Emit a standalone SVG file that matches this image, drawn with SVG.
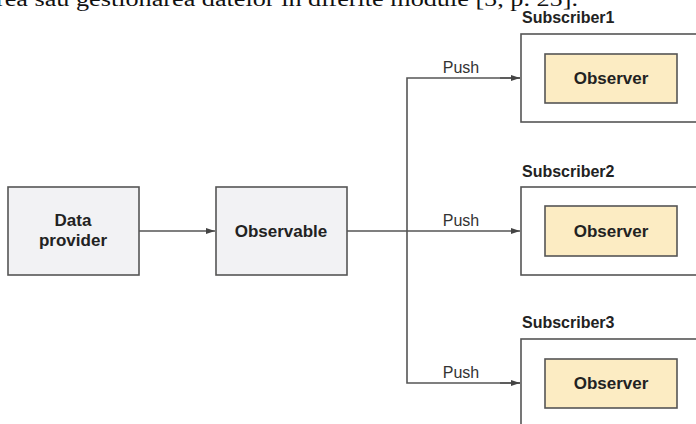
<svg xmlns="http://www.w3.org/2000/svg" width="696" height="424" viewBox="0 0 696 424">
<style>
.box{fill:#f2f2f4;stroke:#555;stroke-width:1.6}
.sub{fill:#fff;stroke:#555;stroke-width:1.6}
.obs{fill:#fcecc3;stroke:#555;stroke-width:1.6}
.b{font-family:"Liberation Sans",Arial,sans-serif;font-weight:bold;font-size:17px;fill:#222;text-anchor:middle}
.lbl{font-family:"Liberation Sans",Arial,sans-serif;font-weight:bold;font-size:16px;fill:#222}
.push{font-family:"Liberation Sans",Arial,sans-serif;font-size:16px;fill:#333;text-anchor:middle}
.doc{font-family:"Liberation Serif","Times New Roman",serif;font-size:20px;fill:#111}
.c{fill:none;stroke:#555;stroke-width:1.6}
</style>
<defs>
<marker id="ah" markerWidth="10" markerHeight="8" refX="9" refY="4" orient="auto" markerUnits="userSpaceOnUse">
<path d="M0,1 L9,4 L0,7 Z" fill="#444"/>
</marker>
</defs>
<rect width="696" height="424" fill="#fff"/>
<text class="doc" x="-4" y="6" textLength="582" lengthAdjust="spacingAndGlyphs">rea sau gestionarea datelor în diferite module [5, p. 25].</text>
<g id="data-provider">
<rect class="box" x="8" y="187" width="131" height="88"/>
<text class="b" x="73" y="226">Data</text>
<text class="b" x="73" y="246">provider</text>
</g>
<g id="observable">
<rect class="box" x="216" y="187" width="131" height="88"/>
<text class="b" x="281" y="237">Observable</text>
</g>
<g id="subscriber1">
<text class="lbl" x="522" y="23">Subscriber1</text>
<rect class="sub" x="521" y="34" width="185" height="88"/>
<g id="observer1">
<rect class="obs" x="545" y="54" width="132" height="49"/>
<text class="b" x="611" y="84">Observer</text>
</g>
</g>
<g id="subscriber2">
<text class="lbl" x="522" y="177">Subscriber2</text>
<rect class="sub" x="521" y="187" width="185" height="88"/>
<g id="observer2">
<rect class="obs" x="545" y="206" width="132" height="50"/>
<text class="b" x="611" y="237">Observer</text>
</g>
</g>
<g id="subscriber3">
<text class="lbl" x="522" y="328">Subscriber3</text>
<rect class="sub" x="521" y="339" width="185" height="100"/>
<g id="observer3">
<rect class="obs" x="545" y="359" width="132" height="49"/>
<text class="b" x="611" y="389">Observer</text>
</g>
</g>
<g id="connectors">
<line class="c" x1="139" y1="231" x2="215" y2="231" marker-end="url(#ah)"/>
<line class="c" x1="347" y1="231" x2="520" y2="231" marker-end="url(#ah)"/>
<polyline class="c" points="520,78 407,78 407,383 520,383"/>
<line class="c" x1="500" y1="78" x2="520" y2="78" marker-end="url(#ah)"/>
<line class="c" x1="500" y1="383" x2="520" y2="383" marker-end="url(#ah)"/>
<text class="push" x="461" y="73">Push</text>
<text class="push" x="461" y="226">Push</text>
<text class="push" x="461" y="378">Push</text>
</g>
</svg>
